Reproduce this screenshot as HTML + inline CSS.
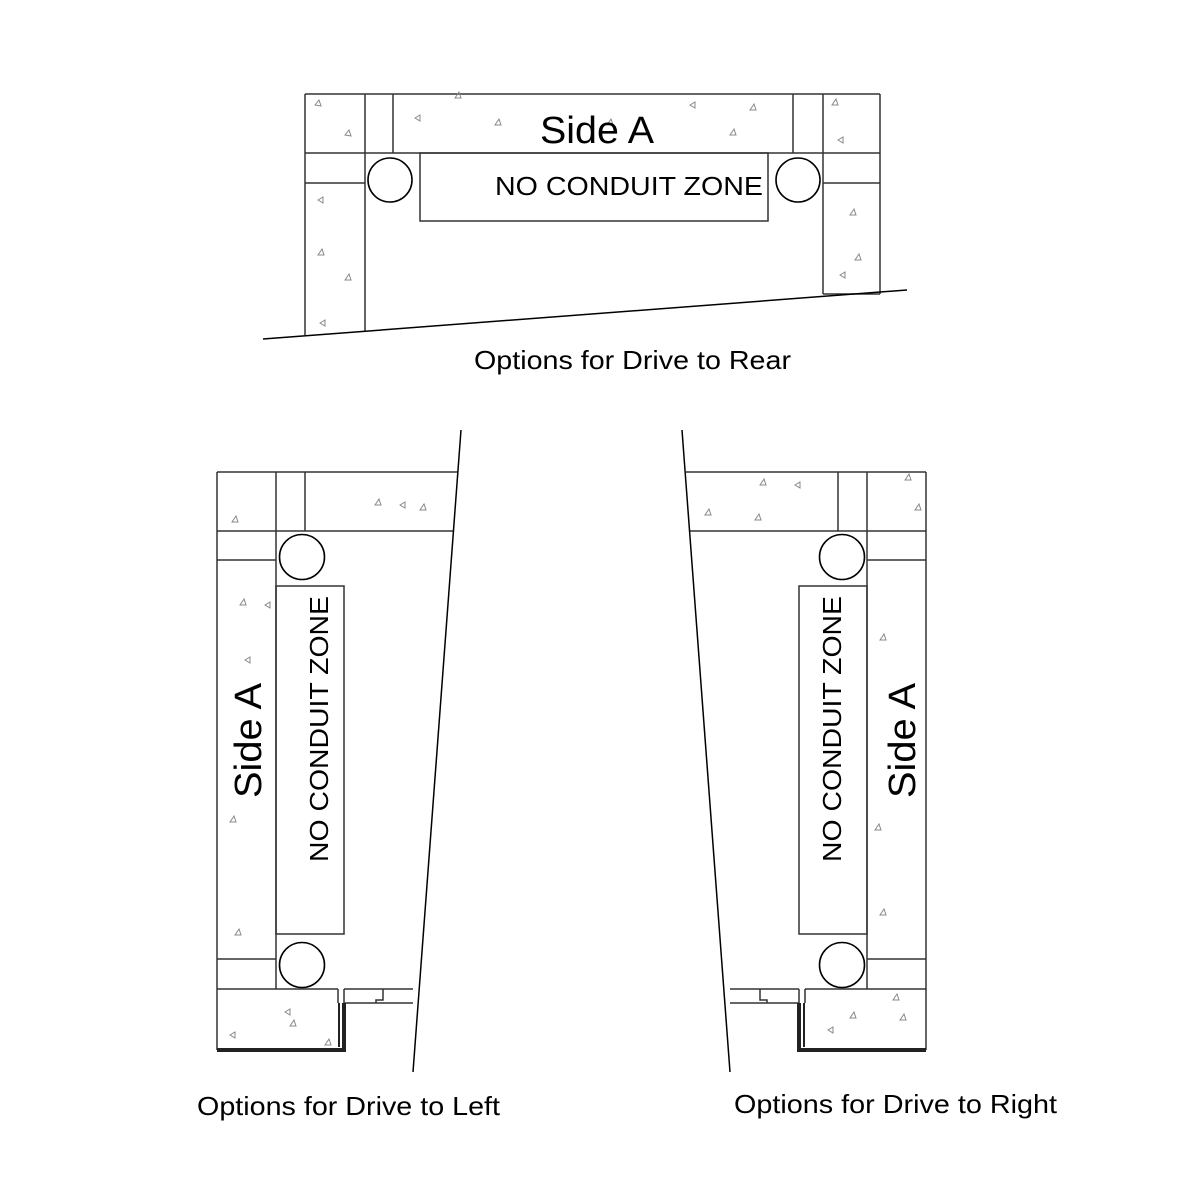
<!DOCTYPE html>
<html><head><style>body{margin:0;background:#fff}svg{display:block}text{font-family:"Liberation Sans",Arial,sans-serif;fill:#000}</style></head>
<body>
<svg width="1200" height="1200" viewBox="0 0 1200 1200" xmlns="http://www.w3.org/2000/svg">
<g stroke="#333" stroke-width="1.5" fill="none">
<line x1="305" y1="94" x2="880" y2="94"/>
<line x1="305" y1="94" x2="305" y2="335"/>
<line x1="365" y1="94" x2="365" y2="331"/>
<line x1="393" y1="94" x2="393" y2="153"/>
<line x1="793" y1="94" x2="793" y2="153"/>
<line x1="823" y1="94" x2="823" y2="294"/>
<line x1="880" y1="94" x2="880" y2="294"/>
<line x1="823" y1="294" x2="880" y2="294"/>
<line x1="305" y1="153" x2="880" y2="153"/>
<line x1="305" y1="183" x2="365" y2="183"/>
<line x1="823" y1="183" x2="880" y2="183"/>
<rect x="420" y="153" width="348" height="68"/>
<line x1="263" y1="339" x2="907" y2="290" stroke="#000"/>
<line x1="217" y1="472" x2="458" y2="472"/>
<line x1="217" y1="531" x2="454" y2="531"/>
<line x1="217" y1="472" x2="217" y2="1050"/>
<line x1="276" y1="472" x2="276" y2="989"/>
<line x1="305" y1="472" x2="305" y2="531"/>
<line x1="217" y1="560" x2="276" y2="560"/>
<line x1="217" y1="959" x2="276" y2="959"/>
<rect x="276" y="586" width="68" height="348"/>
<line x1="217" y1="989" x2="338" y2="989"/>
<line x1="338" y1="989" x2="338" y2="1003"/>
<line x1="344" y1="989" x2="344" y2="1003"/>
<line x1="344" y1="989" x2="413" y2="989"/>
<line x1="344" y1="1003" x2="413" y2="1003"/>
<polyline points="383,989 383,1000 376,1000 376,1003"/>
<path d="M217 1049 H343 V1003 M217 1051 H345 V1003 M339 1003 V1047" stroke="#222" stroke-width="2"/>
<line x1="461" y1="430" x2="413" y2="1072" stroke="#000"/>
<line x1="686" y1="472" x2="926" y2="472"/>
<line x1="690" y1="531" x2="926" y2="531"/>
<line x1="926" y1="472" x2="926" y2="1050"/>
<line x1="867" y1="472" x2="867" y2="989"/>
<line x1="838" y1="472" x2="838" y2="531"/>
<line x1="867" y1="560" x2="926" y2="560"/>
<line x1="867" y1="959" x2="926" y2="959"/>
<rect x="799" y="586" width="68" height="348"/>
<line x1="805" y1="989" x2="926" y2="989"/>
<line x1="799" y1="989" x2="799" y2="1003"/>
<line x1="805" y1="989" x2="805" y2="1003"/>
<line x1="730" y1="989" x2="799" y2="989"/>
<line x1="730" y1="1003" x2="799" y2="1003"/>
<polyline points="760,989 760,1000 767,1000 767,1003"/>
<path d="M926 1049 H800 V1003 M926 1051 H798 V1003 M804 1003 V1047" stroke="#222" stroke-width="2"/>
<line x1="682" y1="430" x2="730" y2="1072" stroke="#000"/>
</g>
<g stroke="#000" stroke-width="1.6" fill="#fff">
<circle cx="390" cy="180" r="22"/><circle cx="798" cy="180" r="22"/>
<circle cx="302" cy="557" r="22.5"/><circle cx="302" cy="965" r="22.5"/>
<circle cx="842" cy="557" r="22.5"/><circle cx="842" cy="965" r="22.5"/>
</g>
<g fill="none" stroke="#888" stroke-width="1">
<path d="M315 105l4 -5 2 6z M345 135l4 -5 2 6z M415 118l5-3 0 6z M455 98l4-6 2 6z M495 125l4-6 2 6z M607 125l4-6 2 6z M690 105l5-3 0 6z M730 135l4-6 2 6z M750 110l4-6 2 6z M832 105l4-6 2 6z M838 140l5-3 0 6z M318 200l5-3 0 6z M318 255l4-6 2 6z M345 280l4-6 2 6z M850 215l4-6 2 6z M855 260l4-6 2 6z M840 275l5-3 0 6z M320 323l5-3 0 6z"/>
<path d="M232 522l4-6 2 6z M240 605l4-6 2 6z M265 605l5-3 0 6z M245 660l5-3 0 6z M230 822l4-6 2 6z M235 935l4-6 2 6z M290 1026l4-6 2 6z M285 1012l5-3 0 6z M325 1045l4-6 2 6z M375 505l4-6 2 6z M400 505l5-3 0 6z M420 510l4-6 2 6z M230 1035l5-3 0 6z"/>
<path d="M760 485l4-6 2 6z M795 485l5-3 0 6z M755 520l4-6 2 6z M705 515l4-6 2 6z M905 480l4-6 2 6z M915 510l4-6 2 6z M880 640l4-6 2 6z M875 830l4-6 2 6z M880 915l4-6 2 6z M893 1000l4-6 2 6z M900 1020l4-6 2 6z M850 1018l4-6 2 6z M828 1030l5-3 0 6z"/>
</g>
<text x="540" y="143" font-size="38" textLength="114" lengthAdjust="spacingAndGlyphs">Side A</text>
<text x="495" y="195" font-size="26" textLength="268" lengthAdjust="spacingAndGlyphs">NO CONDUIT ZONE</text>
<text x="474" y="369" font-size="26" textLength="317" lengthAdjust="spacingAndGlyphs">Options for Drive to Rear</text>
<text transform="translate(261,798) rotate(-90)" font-size="38" textLength="115" lengthAdjust="spacingAndGlyphs">Side A</text>
<text transform="translate(328,862) rotate(-90)" font-size="26" textLength="266" lengthAdjust="spacingAndGlyphs">NO CONDUIT ZONE</text>
<text transform="translate(915,798) rotate(-90)" font-size="38" textLength="115" lengthAdjust="spacingAndGlyphs">Side A</text>
<text transform="translate(841,862) rotate(-90)" font-size="26" textLength="266" lengthAdjust="spacingAndGlyphs">NO CONDUIT ZONE</text>
<text x="197" y="1115" font-size="26" textLength="303" lengthAdjust="spacingAndGlyphs">Options for Drive to Left</text>
<text x="734" y="1113" font-size="26" textLength="323" lengthAdjust="spacingAndGlyphs">Options for Drive to Right</text>
</svg>
</body></html>
